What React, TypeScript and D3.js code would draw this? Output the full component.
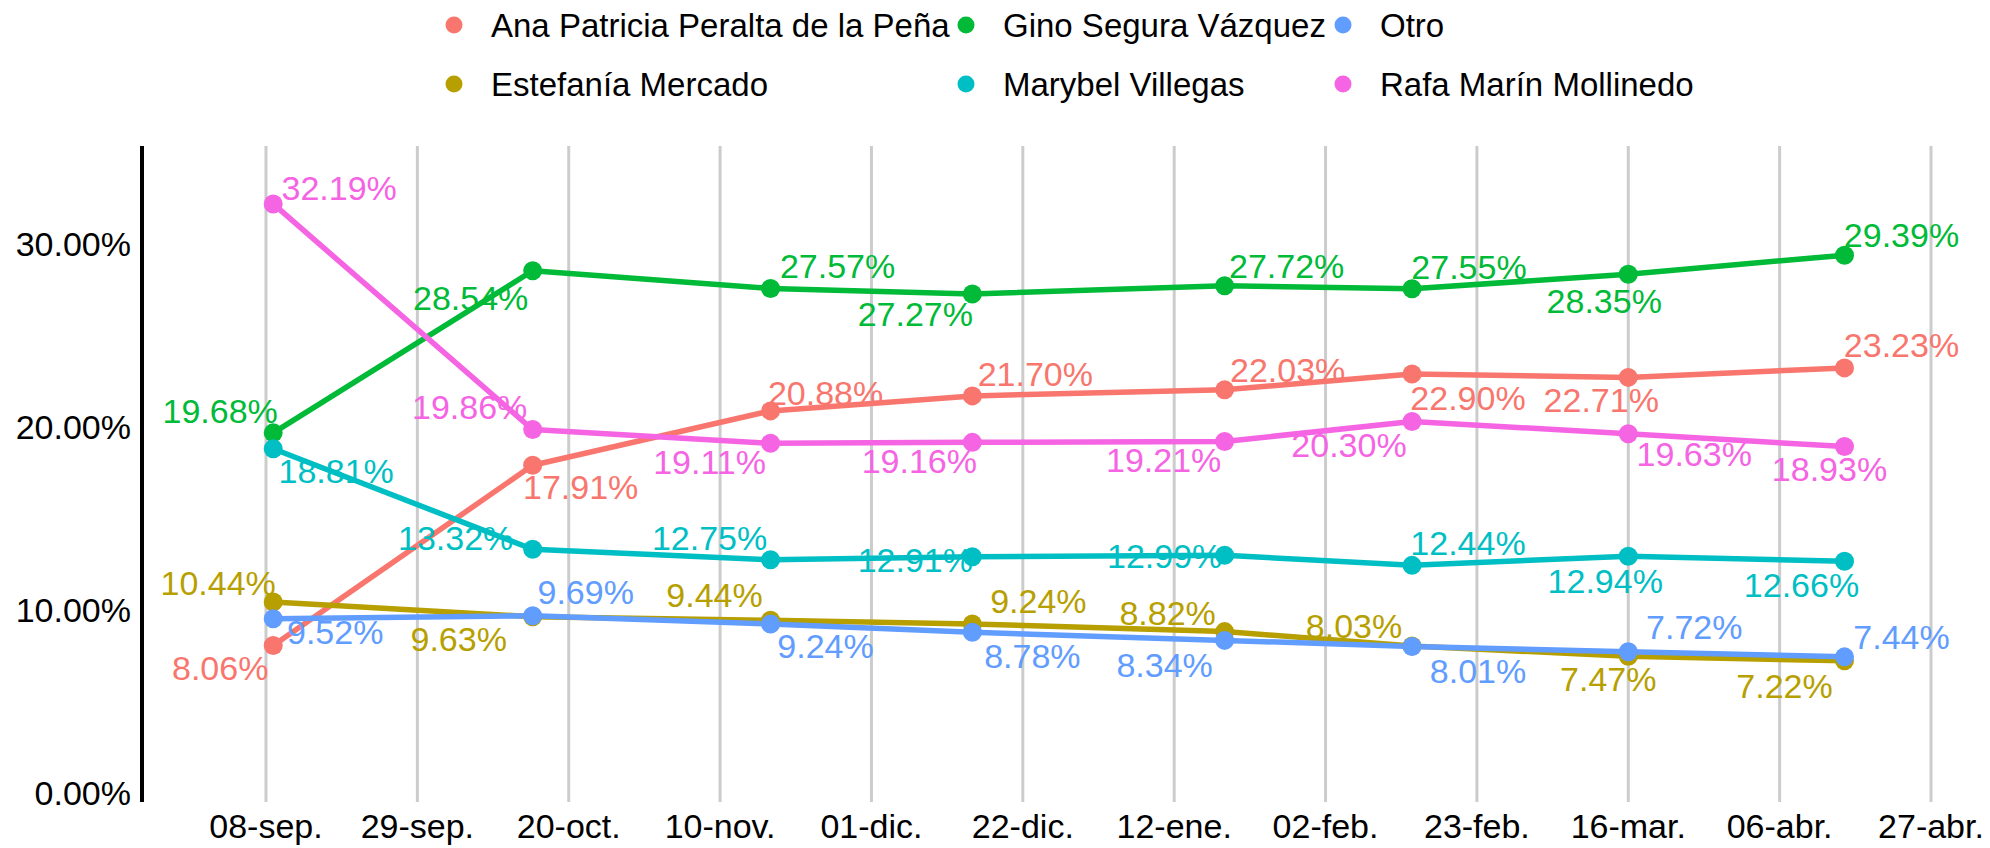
import React from 'react';
import * as d3 from 'd3';

const W = 1990;
const H = 848;

const dates = ['2022-09-09', '2022-10-15', '2022-11-17', '2022-12-15', '2023-01-19', '2023-02-14', '2023-03-16', '2023-04-15'];

const names = [
  'Ana Patricia Peralta de la Peña',
  'Estefanía Mercado',
  'Gino Segura Vázquez',
  'Marybel Villegas',
  'Otro',
  'Rafa Marín Mollinedo',
];
const colors = ['#F8766D', '#B79F00', '#00BA38', '#00BFC4', '#619CFF', '#F564E3'];

const ana = [8.06, 17.91, 20.88, 21.7, 22.03, 22.9, 22.71, 23.23];
const estefania = [10.44, 9.63, 9.44, 9.24, 8.82, 8.03, 7.47, 7.22];
const gino = [19.68, 28.54, 27.57, 27.27, 27.72, 27.55, 28.35, 29.39];
const marybel = [18.81, 13.32, 12.75, 12.91, 12.99, 12.44, 12.94, 12.66];
const otro = [9.52, 9.69, 9.24, 8.78, 8.34, 8.01, 7.72, 7.44];
const rafa = [32.19, 19.86, 19.11, 19.16, 19.21, 20.3, 19.63, 18.93];
const values = [ana, estefania, gino, marybel, otro, rafa];

// label nudges (dx, dy) per point
const nudges = [
  [[-53, 22], [48, 22], [55, -18], [63, -22], [63, -20], [56, 24], [-27, 23], [57, -23]],
  [[-55, -19], [-74, 22], [-56, -25], [66, -23], [-57, -19], [-58, -20], [-20, 23], [-60, 25]],
  [[-53, -22], [-62, 27], [67, -22], [-57, 20], [62, -20], [57, -22], [-24, 27], [57, -20]],
  [[63, 22], [-77, -11], [-61, -22], [-57, 3], [-60, 1], [56, -22], [-23, 25], [-43, 24]],
  [[62, 13], [53, -24], [55, 22], [60, 24], [-60, 25], [66, 25], [66, -25], [57, -20]],
  [[66, -16], [-63, -23], [-61, 19], [-53, 19], [-61, 19], [-63, 23], [66, 20], [-15, 22]],
];

const tickDates = ['2022-09-08', '2022-09-29', '2022-10-20', '2022-11-10', '2022-12-01', '2022-12-22', '2023-01-12', '2023-02-02', '2023-02-23', '2023-03-16', '2023-04-06', '2023-04-27'];
const tickLabels = ['08-sep.', '29-sep.', '20-oct.', '10-nov.', '01-dic.', '22-dic.', '12-ene.', '02-feb.', '23-feb.', '16-mar.', '06-abr.', '27-abr.'];
const yTicks = [0, 10, 20, 30];

// legend order (2 rows, filled by column)
const legendOrder = [[0, 2, 4], [1, 3, 5]];

const font = '"Liberation Sans", Arial, sans-serif';
const fs = 34;

export default function App() {
  const parse = d3.utcParse('%Y-%m-%d');
  const x = d3.scaleUtc().domain([parse('2022-09-08')!, parse('2023-04-27')!]).range([266, 1931]);
  const y = d3.scaleLinear().domain([0, 30]).range([793, 244]);
  const line = d3
    .line<number>()
    .x((_, i) => x(parse(dates[i])!))
    .y((d) => y(d));

  const legendX = [454, 966, 1343];
  const legendY = [25, 84];

  return (
    <svg width={W} height={H} style={{ position: 'absolute', left: 0, top: 0, background: '#fff' }} fontFamily={font}>
      {/* vertical grid */}
      {tickDates.map((t) => (
        <line key={t} x1={x(parse(t)!)} x2={x(parse(t)!)} y1={146} y2={802} stroke="#cccccc" strokeWidth={3} />
      ))}
      {/* y axis */}
      <line x1={142} x2={142} y1={146} y2={802} stroke="#000" strokeWidth={4} />
      {yTicks.map((t) => (
        <text key={t} x={131} y={y(t)} textAnchor="end" dominantBaseline="central" fontSize={fs} fill="#000">
          {t.toFixed(2) + '%'}
        </text>
      ))}
      {tickDates.map((t, i) => (
        <text key={t} x={x(parse(t)!)} y={826} textAnchor="middle" dominantBaseline="central" fontSize={fs} fill="#000">
          {tickLabels[i]}
        </text>
      ))}
      {/* lines */}
      {values.map((v, s) => (
        <path key={names[s]} d={line(v) || ''} fill="none" stroke={colors[s]} strokeWidth={5.5} strokeLinejoin="round" />
      ))}
      {values.map((v, s) =>
        v.map((d, i) => (
          <circle key={s + '-' + i} cx={x(parse(dates[i])!)} cy={y(d)} r={9.5} fill={colors[s]} />
        ))
      )}
      {values.map((v, s) =>
        v.map((d, i) => (
          <text
            key={'l' + s + '-' + i}
            x={x(parse(dates[i])!) + nudges[s][i][0]}
            y={y(d) + nudges[s][i][1]}
            textAnchor="middle"
            dominantBaseline="central"
            fontSize={fs}
            fill={colors[s]}
          >
            {d.toFixed(2) + '%'}
          </text>
        ))
      )}
      {/* legend */}
      {legendOrder.map((row, r) =>
        row.map((s, c) => (
          <g key={names[s]}>
            <circle cx={legendX[c]} cy={legendY[r]} r={8.5} fill={colors[s]} />
            <text x={legendX[c] + 37} y={legendY[r]} dominantBaseline="central" fontSize={33} fill="#000">
              {names[s]}
            </text>
          </g>
        ))
      )}
    </svg>
  );
}
